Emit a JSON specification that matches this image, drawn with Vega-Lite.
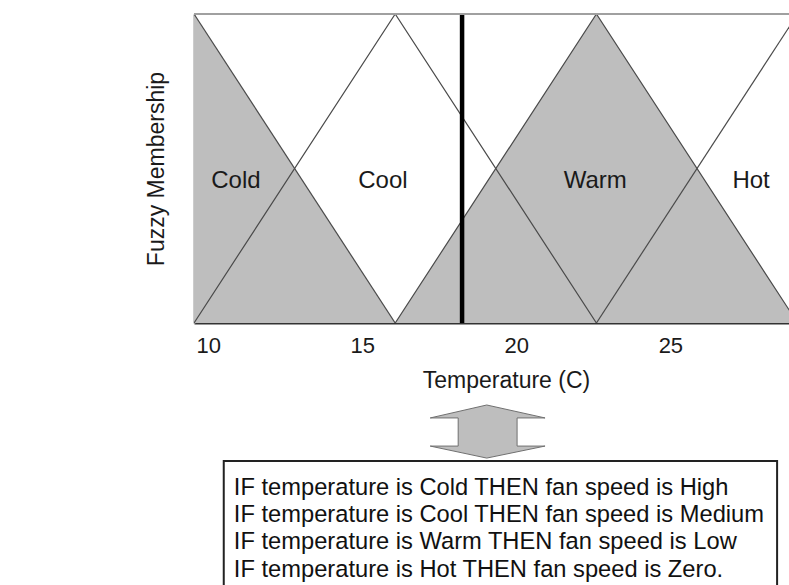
{
  "$schema": "https://vega.github.io/schema/vega-lite/v6.json",
  "padding": {"left": 145, "top": 11, "right": 0, "bottom": 0},
  "spacing": 77,
  "bounds": "flush",
  "config": {
    "view": {"stroke": null},
    "font": "Liberation Sans"
  },
  "datasets": {
    "membership": [
      {"set": "Cold", "shaded": true, "temp": 9.54, "membership": 1},
      {"set": "Cold", "shaded": true, "temp": 16.07, "membership": 0},
      {"set": "Cool", "shaded": false, "temp": 9.54, "membership": 0},
      {"set": "Cool", "shaded": false, "temp": 16.07, "membership": 1},
      {"set": "Cool", "shaded": false, "temp": 22.6, "membership": 0},
      {"set": "Warm", "shaded": true, "temp": 16.07, "membership": 0},
      {"set": "Warm", "shaded": true, "temp": 22.6, "membership": 1},
      {"set": "Warm", "shaded": true, "temp": 29.13, "membership": 0},
      {"set": "Hot", "shaded": false, "temp": 22.6, "membership": 0},
      {"set": "Hot", "shaded": false, "temp": 29.13, "membership": 1}
    ],
    "setLabels": [
      {"set": "Cold", "temp": 10.9, "membership": 0.46},
      {"set": "Cool", "temp": 15.67, "membership": 0.46},
      {"set": "Warm", "temp": 22.56, "membership": 0.46},
      {"set": "Hot", "temp": 27.62, "membership": 0.46}
    ],
    "reading": [{"temp": 18.24}],
    "topEdge": [{"membership": 1}],
    "arrow": [
      {"pt": 1, "u": 49.2, "v": 97.3},
      {"pt": 2, "u": 59.0, "v": 90.3},
      {"pt": 3, "u": 54.3, "v": 90.3},
      {"pt": 4, "u": 54.3, "v": 75.1},
      {"pt": 5, "u": 59.0, "v": 75.1},
      {"pt": 6, "u": 49.2, "v": 68.6},
      {"pt": 7, "u": 39.7, "v": 75.1},
      {"pt": 8, "u": 44.4, "v": 75.1},
      {"pt": 9, "u": 44.4, "v": 90.3},
      {"pt": 10, "u": 39.7, "v": 90.3},
      {"pt": 11, "u": 49.2, "v": 97.3}
    ],
    "box": [{"u1": 5.0, "u2": 98.0, "v1": -10, "v2": 67.0}],
    "rules": [
      {"line": 1, "u": 6.7, "v": 52.5, "text": "IF temperature is Cold THEN fan speed is High"},
      {"line": 2, "u": 6.7, "v": 37.9, "text": "IF temperature is Cool THEN fan speed is Medium"},
      {"line": 3, "u": 6.7, "v": 23.3, "text": "IF temperature is Warm THEN fan speed is Low"},
      {"line": 4, "u": 6.7, "v": 8.2, "text": "IF temperature is Hot THEN fan speed is Zero."}
    ]
  },
  "vconcat": [
    {
      "width": 595,
      "height": 309,
      "layer": [
        {
          "data": {"name": "membership"},
          "transform": [{"filter": "datum.shaded"}],
          "mark": {"type": "area", "color": "#bebebe", "clip": true},
          "encoding": {
            "x": {
              "field": "temp",
              "type": "quantitative",
              "scale": {"domain": [9.54, 28.85], "nice": false, "zero": false},
              "axis": {
                "title": "Temperature (C)",
                "values": [10, 15, 20, 25],
                "ticks": false,
                "grid": false,
                "domainColor": "#333333",
                "domainWidth": 2,
                "labelFontSize": 22,
                "labelColor": "#1a1a1a",
                "labelPadding": 12,
                "labelFlush": false,
                "labelOverlap": false,
                "titleFontSize": 23,
                "titleFontWeight": "normal",
                "titleColor": "#1a1a1a",
                "titlePadding": 13,
                "titleX": 312
              }
            },
            "y": {
              "field": "membership",
              "type": "quantitative",
              "stack": null,
              "scale": {"domain": [0, 1], "nice": false},
              "axis": {
                "title": "Fuzzy Membership",
                "labels": false,
                "ticks": false,
                "grid": false,
                "domainColor": "#999999",
                "domainWidth": 2,
                "titleFontSize": 23,
                "titleFontWeight": "normal",
                "titleColor": "#1a1a1a",
                "titlePadding": 26
              }
            },
            "detail": {"field": "set"}
          }
        },
        {
          "data": {"name": "membership"},
          "mark": {"type": "line", "color": "#4a4a4a", "strokeWidth": 1.2, "clip": true},
          "encoding": {
            "x": {"field": "temp", "type": "quantitative"},
            "y": {"field": "membership", "type": "quantitative"},
            "detail": {"field": "set"}
          }
        },
        {
          "data": {"name": "reading"},
          "mark": {"type": "rule", "color": "#000000", "strokeWidth": 4.5},
          "encoding": {
            "x": {"field": "temp", "type": "quantitative"}
          }
        },
        {
          "data": {"name": "topEdge"},
          "mark": {"type": "rule", "color": "#a0a0a0", "strokeWidth": 2},
          "encoding": {
            "y": {"field": "membership", "type": "quantitative"}
          }
        },
        {
          "data": {"name": "setLabels"},
          "mark": {"type": "text", "fontSize": 24, "color": "#1a1a1a", "align": "center", "baseline": "middle"},
          "encoding": {
            "x": {"field": "temp", "type": "quantitative"},
            "y": {"field": "membership", "type": "quantitative"},
            "text": {"field": "set"}
          }
        }
      ]
    },
    {
      "width": 595,
      "height": 185,
      "layer": [
        {
          "data": {"name": "arrow"},
          "mark": {"type": "line", "fill": "#bebebe", "stroke": "#707070", "strokeWidth": 1},
          "encoding": {
            "x": {"field": "u", "type": "quantitative", "scale": {"domain": [0, 100], "nice": false, "zero": false}, "axis": null},
            "y": {"field": "v", "type": "quantitative", "scale": {"domain": [0, 100], "nice": false, "zero": false}, "axis": null},
            "order": {"field": "pt"}
          }
        },
        {
          "data": {"name": "box"},
          "mark": {"type": "rect", "fill": null, "stroke": "#222222", "strokeWidth": 2, "clip": true},
          "encoding": {
            "x": {"field": "u1", "type": "quantitative"},
            "x2": {"field": "u2"},
            "y": {"field": "v1", "type": "quantitative"},
            "y2": {"field": "v2"}
          }
        },
        {
          "data": {"name": "rules"},
          "mark": {"type": "text", "fontSize": 23.7, "color": "#111111", "align": "left", "baseline": "middle"},
          "encoding": {
            "x": {"field": "u", "type": "quantitative"},
            "y": {"field": "v", "type": "quantitative"},
            "text": {"field": "text"}
          }
        }
      ]
    }
  ]
}
